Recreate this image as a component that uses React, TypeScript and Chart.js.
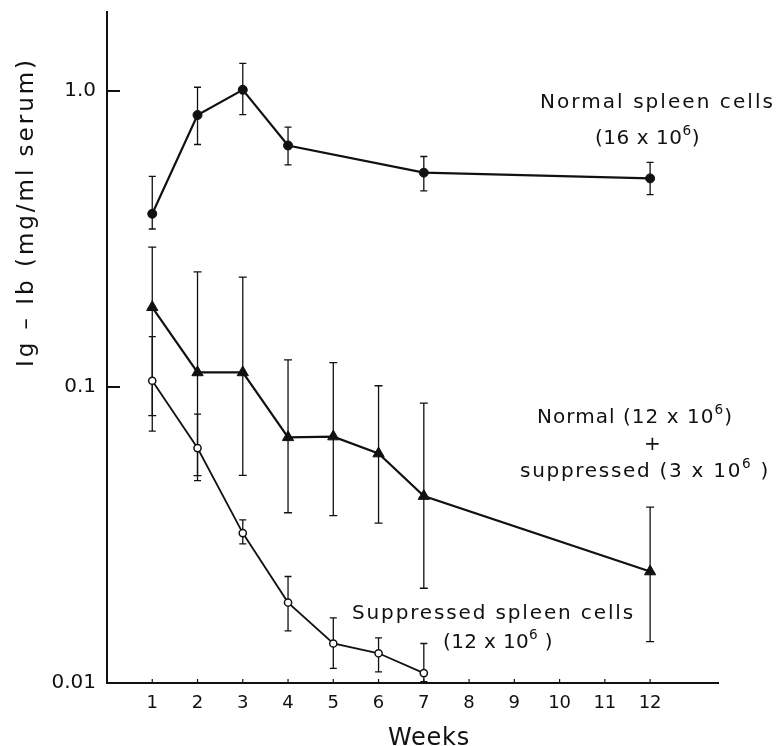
import React, { useEffect, useRef } from "react";
import { Chart, registerables } from "chart.js";

Chart.register(...registerables);

// ---------- data ----------
const weekTicks = [1, 2, 3, 4, 5, 6, 7, 8, 9, 10, 11, 12];
const yTickValues = [0.01, 0.1, 1];
const yTickLabels = ["0.01", "0.1", "1.0"];

const normalWeeks = [1, 2, 3, 4, 7, 12];
const normalMean = [0.385, 0.83, 1.01, 0.655, 0.53, 0.507];
const normalHigh = [0.515, 1.03, 1.24, 0.756, 0.601, 0.574];
const normalLow = [0.342, 0.66, 0.832, 0.563, 0.46, 0.447];

const mixedWeeks = [1, 2, 3, 4, 5, 6, 7, 12];
const mixedMean = [0.186, 0.112, 0.112, 0.0676, 0.068, 0.0596, 0.0428, 0.0238];
const mixedHigh = [0.297, 0.245, 0.235, 0.1236, 0.121, 0.101, 0.0883, 0.0393];
const mixedLow = [0.08, 0.0502, 0.0503, 0.0376, 0.0368, 0.0347, 0.0209, 0.0138];

const suppWeeks = [1, 2, 3, 4, 5, 6, 7];
const suppMean = [0.105, 0.0622, 0.0321, 0.0187, 0.0136, 0.0126, 0.0108];
const suppHigh = [0.148, 0.081, 0.0356, 0.0229, 0.0166, 0.0142, 0.0136];
const suppLow = [0.071, 0.0483, 0.0295, 0.015, 0.0112, 0.0109, 0.0101];

// ---------- styling ----------
const ink = "#111";
const FONT = '"DejaVu Sans", sans-serif';

const toPoints = (xs: number[], ys: number[]) => xs.map((x, i) => ({ x, y: ys[i] }));

const errorSets = [
  { xs: normalWeeks, lo: normalLow, hi: normalHigh, cap: 3.5 },
  { xs: mixedWeeks, lo: mixedLow, hi: mixedHigh, cap: 4 },
  { xs: suppWeeks, lo: suppLow, hi: suppHigh, cap: 3.5 },
];

type Part = [string, boolean?];

function drawRich(ctx: any, parts: Part[], x0: number, x1: number, cy: number, size: number) {
  const target = x1 - x0;
  const supSize = size * 0.68;
  const setFont = (sup?: boolean) => {
    ctx.font = `${sup ? supSize : size}px ${FONT}`;
  };
  ctx.letterSpacing = "0px";
  let raw = 0;
  let n = 0;
  parts.forEach(([t, sup]) => {
    setFont(sup);
    raw += ctx.measureText(t).width;
    n += t.length;
  });
  const sp = Math.max(0, (target - raw) / n);
  ctx.letterSpacing = sp + "px";
  ctx.textAlign = "left";
  ctx.textBaseline = "alphabetic";
  const base = cy + size * 0.365;
  let x = x0;
  parts.forEach(([t, sup]) => {
    setFont(sup);
    ctx.fillText(t, x, sup ? base - size * 0.45 : base);
    x += ctx.measureText(t).width;
  });
  ctx.letterSpacing = "0px";
}

const errorBarPlugin = {
  id: "errorBars",
  beforeDatasetsDraw(chart: any) {
    const { ctx } = chart;
    const xs = chart.scales.x;
    const ys = chart.scales.y;
    ctx.save();
    ctx.strokeStyle = ink;
    ctx.lineWidth = 1.3;
    errorSets.forEach((set) => {
      set.xs.forEach((w, i) => {
        const px = xs.getPixelForValue(w);
        const top = ys.getPixelForValue(set.hi[i]);
        const bot = ys.getPixelForValue(set.lo[i]);
        ctx.beginPath();
        ctx.moveTo(px, top);
        ctx.lineTo(px, bot);
        ctx.moveTo(px - set.cap, top);
        ctx.lineTo(px + set.cap, top);
        ctx.moveTo(px - set.cap, bot);
        ctx.lineTo(px + set.cap, bot);
        ctx.stroke();
      });
    });
    ctx.restore();
  },
};

const decorPlugin = {
  id: "decor",
  afterDraw(chart: any) {
    const { ctx, chartArea } = chart;
    const xs = chart.scales.x;
    const ys = chart.scales.y;
    ctx.save();
    ctx.strokeStyle = ink;
    ctx.fillStyle = ink;
    // inside tick marks
    ctx.lineWidth = 2;
    ctx.beginPath();
    [1, 0.1].forEach((v) => {
      const py = ys.getPixelForValue(v);
      ctx.moveTo(chartArea.left, py);
      ctx.lineTo(chartArea.left + 13, py);
    });
    ctx.stroke();
    ctx.lineWidth = 1.2;
    ctx.beginPath();
    weekTicks.forEach((w) => {
      const px = xs.getPixelForValue(w);
      ctx.moveTo(px, chartArea.bottom);
      ctx.lineTo(px, chartArea.bottom - 4);
    });
    ctx.stroke();

    // axis titles
    drawRich(ctx, [["Weeks"]], 388, 470, 736, 24);
    ctx.save();
    ctx.translate(24.5, 212);
    ctx.rotate(-Math.PI / 2);
    drawRich(ctx, [["Ig – Ib (mg/ml serum)"]], -155, 155, 0, 23);
    ctx.restore();

    // series annotations
    drawRich(ctx, [["Normal spleen cells"]], 540, 775, 101, 20);
    drawRich(ctx, [["(16 x 10"], ["6", true], [")"]], 595, 700, 137, 20);
    drawRich(ctx, [["Normal (12 x 10"], ["6", true], [")"]], 537, 733, 416, 20);
    drawRich(ctx, [["+"]], 644, 661, 443, 20);
    drawRich(ctx, [["suppressed (3 x 10"], ["6", true], [" )"]], 520, 770, 470, 20);
    drawRich(ctx, [["Suppressed spleen cells"]], 352, 635, 612, 20);
    drawRich(ctx, [["(12 x 10"], ["6", true], [" )"]], 443, 553, 641, 20);
    ctx.restore();
  },
};

export default function App() {
  const canvasRef = useRef<HTMLCanvasElement | null>(null);

  useEffect(() => {
    const canvas = canvasRef.current;
    if (!canvas) return;
    const chart = new Chart(canvas, {
      type: "line",
      data: {
        datasets: [
          {
            label: "Normal spleen cells (16 x 10^6)",
            data: toPoints(normalWeeks, normalMean),
            borderColor: ink,
            borderWidth: 2.2,
            pointStyle: "circle",
            pointRadius: 4.5,
            pointBackgroundColor: ink,
            pointBorderColor: ink,
            pointBorderWidth: 1,
            tension: 0,
          },
          {
            label: "Normal (12 x 10^6) + suppressed (3 x 10^6)",
            data: toPoints(mixedWeeks, mixedMean),
            borderColor: ink,
            borderWidth: 2.2,
            pointStyle: "triangle",
            pointRadius: 6.5,
            pointBackgroundColor: ink,
            pointBorderColor: ink,
            pointBorderWidth: 1,
            tension: 0,
          },
          {
            label: "Suppressed spleen cells (12 x 10^6)",
            data: toPoints(suppWeeks, suppMean),
            borderColor: ink,
            borderWidth: 1.8,
            pointStyle: "circle",
            pointRadius: 3.6,
            pointBackgroundColor: "#fff",
            pointBorderColor: ink,
            pointBorderWidth: 1.5,
            tension: 0,
          },
        ],
      },
      options: {
        animation: false,
        responsive: true,
        maintainAspectRatio: false,
        events: [],
        layout: { padding: { top: 12, right: 60, bottom: 0, left: 0 } },
        plugins: {
          legend: { display: false },
          tooltip: { enabled: false },
          title: { display: false },
        },
        scales: {
          x: {
            type: "linear",
            min: 0,
            max: 13.5,
            afterBuildTicks: (s: any) => {
              s.ticks = weekTicks.map((v) => ({ value: v }));
            },
            afterFit: (s: any) => {
              s.height = 63;
              s.paddingLeft = 0;
              s.paddingRight = 0;
            },
            grid: { display: false, drawTicks: false },
            border: { display: true, color: ink, width: 2 },
            ticks: {
              color: ink,
              font: { family: FONT, size: 18 },
              padding: 10,
              autoSkip: false,
              maxRotation: 0,
              callback: (v: any) => String(v),
            },
          },
          y: {
            type: "logarithmic",
            min: 0.01,
            max: 1.85,
            afterBuildTicks: (s: any) => {
              s.ticks = yTickValues.map((v) => ({ value: v }));
            },
            afterFit: (s: any) => {
              s.width = 107;
              s.paddingTop = 0;
              s.paddingBottom = 0;
            },
            grid: { display: false, drawTicks: false },
            border: { display: true, color: ink, width: 2 },
            ticks: {
              color: ink,
              font: { family: FONT, size: 20 },
              padding: 11,
              autoSkip: false,
              callback: (_v: any, i: number) => yTickLabels[i],
            },
          },
        },
      },
      plugins: [errorBarPlugin, decorPlugin],
    } as any);
    return () => chart.destroy();
  }, []);

  return (
    <div
      style={{
        position: "absolute",
        left: 0,
        top: 0,
        width: 778,
        height: 746,
        background: "#fff",
      }}
    >
      <canvas ref={canvasRef} />
    </div>
  );
}
